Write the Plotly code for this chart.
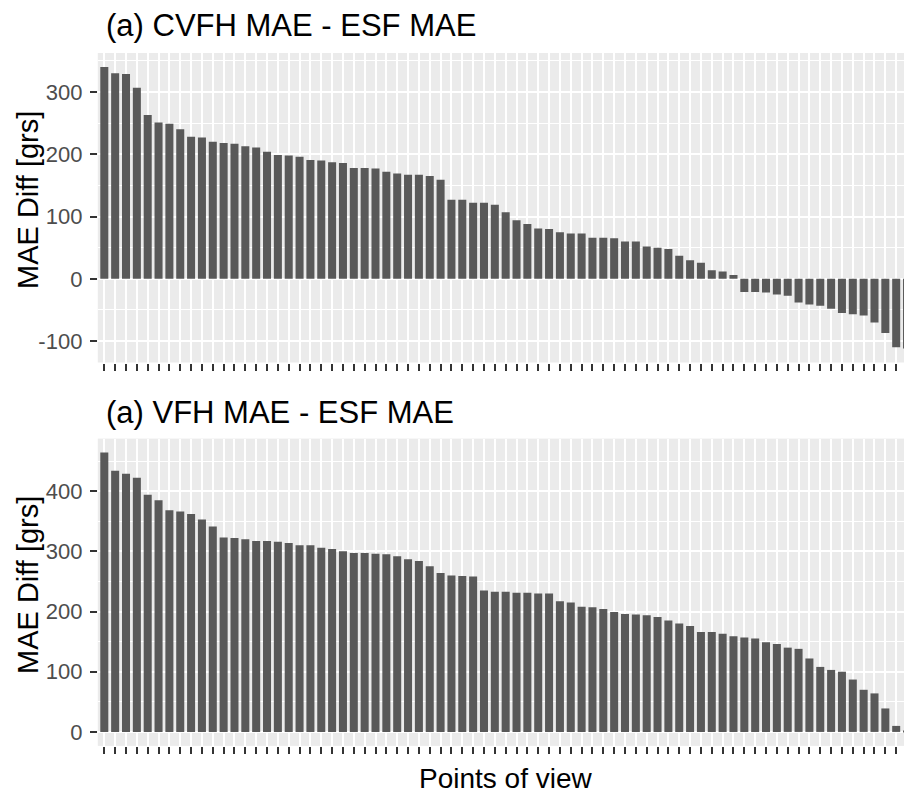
import plotly.graph_objects as go

# ---- data ----
points = list(range(1, 76))
cvfh_minus_esf = [340, 330, 329, 307, 263, 251, 249, 240, 228, 227,
                  220, 218, 217, 213, 211, 204, 199, 198, 196, 191,
                  190, 187, 186, 178, 178, 177, 172, 169, 167, 167,
                  165, 159, 127, 127, 122, 122, 119, 107, 94, 88,
                  81, 80, 75, 73, 73, 66, 66, 65, 60, 60,
                  52, 50, 48, 37, 30, 26, 14, 12, 6, -21,
                  -21, -22, -25, -27, -38, -41, -43, -48, -55, -57,
                  -59, -70, -87, -110, -112]
vfh_minus_esf = [464, 434, 429, 422, 394, 385, 368, 366, 362, 353,
                 341, 323, 322, 320, 317, 317, 316, 314, 310, 310,
                 306, 304, 300, 297, 297, 296, 295, 292, 287, 284,
                 275, 264, 260, 259, 258, 235, 233, 233, 231, 231,
                 230, 230, 217, 215, 208, 207, 204, 199, 196, 195,
                 194, 191, 185, 180, 176, 166, 166, 163, 159, 157,
                 155, 149, 146, 140, 138, 122, 108, 103, 100, 87,
                 70, 64, 39, 10, 1]
titles = ["(a) CVFH MAE - ESF MAE", "(a) VFH MAE - ESF MAE"]
y_label = "MAE Diff [grs]"
x_label = "Points of view"
top_ticks = [-100, 0, 100, 200, 300]
top_tick_labels = ["-100", "0", "100", "200", "300"]
bottom_ticks = [0, 100, 200, 300, 400]
bottom_tick_labels = ["0", "100", "200", "300", "400"]

W, H = 904, 793
FONT = "Liberation Sans, Arial, Helvetica, sans-serif"
BAR = "#595959"
PANEL = "#EBEBEB"

def px_x(p):
    return p / W

def px_y(p):
    return 1 - p / H

fig = go.Figure()
fig.add_trace(go.Bar(x=points, y=cvfh_minus_esf, marker_color=BAR,
                     marker_line_width=0, width=0.74,
                     xaxis="x", yaxis="y", showlegend=False))
fig.add_trace(go.Bar(x=points, y=vfh_minus_esf, marker_color=BAR,
                     marker_line_width=0, width=0.74,
                     xaxis="x2", yaxis="y2", showlegend=False))

x_dom = [px_x(97.8), 1.0]
xcommon = dict(range=[0.4, 74.72], tickvals=points, ticktext=[""] * len(points),
               ticks="outside", ticklen=7, tickwidth=2.4, tickcolor="#333333",
               showgrid=True, gridcolor="white", gridwidth=1.8,
               zeroline=False, showline=False, fixedrange=True)
ycommon = dict(ticks="outside", ticklen=7, tickwidth=2.4, tickcolor="#333333",
               tickfont=dict(family=FONT, size=22, color="#4D4D4D"),
               showgrid=True, gridcolor="white", gridwidth=2,
               zeroline=False, showline=False, ticklabelstandoff=3, fixedrange=True)

fig.update_layout(
    width=W, height=H,
    margin=dict(l=0, r=0, t=0, b=0),
    paper_bgcolor="white",
    plot_bgcolor=PANEL,
    bargap=0.26,
    font=dict(family=FONT),
    xaxis=dict(domain=x_dom, anchor="y", **xcommon),
    xaxis2=dict(domain=x_dom, anchor="y2", **xcommon),
    yaxis=dict(domain=[px_y(362.5), px_y(53.0)], anchor="x",
               range=[-134.3, 362.6], tickvals=top_ticks, ticktext=top_tick_labels,
               minor=dict(dtick=50, tick0=0, showgrid=True, gridcolor="white",
                          gridwidth=1, ticks=""),
               **ycommon),
    yaxis2=dict(domain=[px_y(745.9), px_y(438.6)], anchor="x2",
                range=[-23.2, 487.2], tickvals=bottom_ticks, ticktext=bottom_tick_labels,
                minor=dict(dtick=50, tick0=0, showgrid=True, gridcolor="white",
                           gridwidth=1, ticks=""),
                **ycommon),
)

ann = []
ann.append(dict(text=titles[0], x=px_x(104), y=px_y(25), xref="paper", yref="paper",
                xanchor="left", yanchor="middle", showarrow=False,
                font=dict(family=FONT, size=31, color="black")))
ann.append(dict(text=titles[1], x=px_x(104), y=px_y(412), xref="paper", yref="paper",
                xanchor="left", yanchor="middle", showarrow=False,
                font=dict(family=FONT, size=31, color="black")))
for cy in (200, 585):
    ann.append(dict(text=y_label, x=px_x(28), y=px_y(cy), xref="paper", yref="paper",
                    xanchor="center", yanchor="middle", textangle=-90, showarrow=False,
                    font=dict(family=FONT, size=29, color="black")))
ann.append(dict(text=x_label, x=px_x(505.7), y=px_y(778), xref="paper", yref="paper",
                xanchor="center", yanchor="middle", showarrow=False,
                font=dict(family=FONT, size=28, color="black")))
fig.update_layout(annotations=ann)

fig.write_html(
    "out.html",
    config={"displayModeBar": False},
    post_script="document.body.style.margin='0';document.body.style.padding='0';"
                "document.documentElement.style.overflow='hidden';"
                "document.body.style.overflow='hidden';",
)
